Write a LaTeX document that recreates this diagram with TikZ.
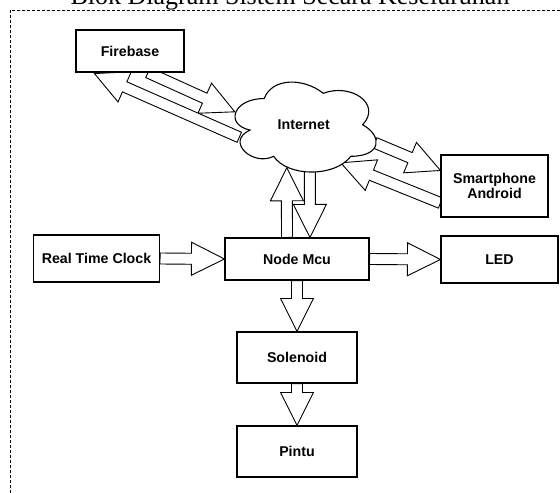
\documentclass[tikz,border=0pt]{standalone}
\usepackage{fontspec}
\setmainfont{Liberation Sans}
\newfontfamily\titlefont{Liberation Serif}
\usetikzlibrary{calc}
\pgfdeclarelayer{arrowlayer}
\pgfdeclarelayer{cloudlayer}
\pgfsetlayers{arrowlayer,cloudlayer,main}
\newcommand{\arrsw}{5.5pt}
\newcommand{\arrhw}{16.5pt}
\newcommand{\arrhl}{33pt}
\newcommand{\blockarrow}[2]{%
  \coordinate (tmpH) at ($(#2)!\arrhl!(#1)$);
  \draw[barrow] ($(#1)!\arrsw!90:(#2)$) -- ($(tmpH)!\arrsw!-90:(#1)$) -- ($(tmpH)!\arrhw!-90:(#1)$)
    -- (#2) -- ($(tmpH)!\arrhw!90:(#1)$) -- ($(tmpH)!\arrsw!90:(#1)$) -- ($(#1)!\arrsw!-90:(#2)$) -- cycle;}
\begin{document}
\begin{tikzpicture}[x=1pt,y=-1pt,
  lbl/.style={font=\fontsize{14.2}{15.5}\selectfont\bfseries, align=center, inner sep=0pt},
  box/.style={lbl, draw=black, line width=1.1pt, fill=white},
  barrow/.style={draw=black, line width=0.9pt, fill=white, line join=miter}]
\clip (0,0) rectangle (560,493);
\node[anchor=base, font=\titlefont\fontsize{26}{30}\selectfont, inner sep=0pt] (title) at (290,4) {Blok Diagram Sistem Secara Keseluruhan};
\draw[line width=0.9pt, dash pattern=on 3pt off 2pt] (10,10) rectangle (600,530);

\node[box, minimum width=108pt, minimum height=42pt] (fb) at (130,51) {Firebase};
\node[lbl, minimum width=157.5pt, minimum height=105pt] (inet) at (303.75,125) {Internet};
\node[box, minimum width=107pt, minimum height=62pt] (sp) at (494.5,186) {Smartphone\\Android};
\node[box, minimum width=126pt, minimum height=47pt] (rtc) at (96.5,258.5) {Real Time Clock};
\node[box, minimum width=144pt, minimum height=42pt] (mcu) at (297,259) {Node Mcu};
\node[box, minimum width=117pt, minimum height=47pt] (led) at (499.5,259.5) {LED};
\node[box, minimum width=120pt, minimum height=51pt] (sol) at (297,357.5) {Solenoid};
\node[box, minimum width=120pt, minimum height=51pt] (pin) at (297,451.5) {Pintu};

\begin{pgfonlayer}{cloudlayer}
\begin{scope}[shift={(inet.north west)}, x=157.5pt, y=-105pt]
\draw[line width=1.1pt, fill=white] (0.25,0.25) .. controls (0.05,0.25) and (0,0.5) .. (0.16,0.55)
  .. controls (0,0.66) and (0.18,0.9) .. (0.31,0.8)
  .. controls (0.4,1) and (0.7,1) .. (0.8,0.8)
  .. controls (1,0.8) and (1,0.6) .. (0.875,0.5)
  .. controls (1,0.3) and (0.8,0.1) .. (0.625,0.2)
  .. controls (0.5,0.05) and (0.3,0.05) .. (0.25,0.25) -- cycle;
\end{scope}
\end{pgfonlayer}

\coordinate (fbOut) at ($(fb.south)+(18,0)$);
\coordinate (inFb) at ($(inet.north west)+(10,39.5)$);
\coordinate (inOutFb) at ($(inet.north west)+(14.5,65)$);
\coordinate (fbIn) at ($(fb.south west)+(19,1)$);
\coordinate (mcuUp) at ($(mcu.north)+(-10,0)$);
\coordinate (inBotL) at ($(inet.north west)+(62,95.5)$);
\coordinate (inBotR) at ($(inet.north west)+(85,98.5)$);
\coordinate (mcuDown) at ($(mcu.north)+(13,0)$);
\coordinate (inRight) at ($(inet.north west)+(150,70.5)$);
\coordinate (spIn) at ($(sp.north west)+(0,16)$);
\coordinate (spOut) at ($(sp.west)+(0,17)$);
\coordinate (inRB) at ($(inet.north west)+(116,90.5)$);

\begin{pgfonlayer}{arrowlayer}
\blockarrow{fbOut}{inFb}
\blockarrow{inOutFb}{fbIn}
\blockarrow{mcuUp}{inBotL}
\blockarrow{inBotR}{mcuDown}
\blockarrow{inRight}{spIn}
\blockarrow{spOut}{inRB}
\blockarrow{rtc.east}{mcu.west}
\blockarrow{mcu.east}{led.west}
\blockarrow{mcu.south}{sol.north}
\blockarrow{sol.south}{pin.north}
\end{pgfonlayer}
\end{tikzpicture}
\end{document}
